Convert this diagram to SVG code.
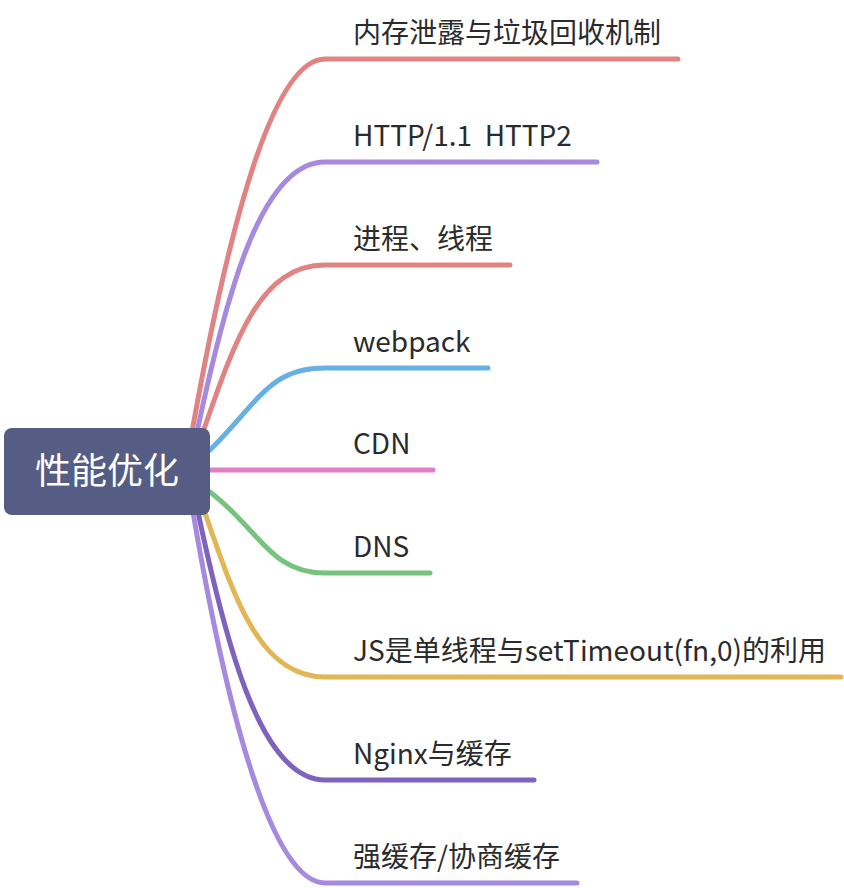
<svg xmlns="http://www.w3.org/2000/svg" width="844" height="888" viewBox="0 0 844 888">
<style>
.ln{fill:none;stroke-width:5;stroke-linecap:round}
.lb{font-family:"Noto Sans CJK SC","Noto Sans",sans-serif;font-size:28px;fill:#2b2b2b;white-space:pre}
.rt{font-family:"Noto Sans CJK SC","Noto Sans",sans-serif;font-size:36px;fill:#ffffff}
</style>
<rect width="844" height="888" fill="#ffffff"/>
<g id="connectors">
<path class="ln" stroke="#e28383" d="M192 432 C225 246 270 59 325 59 L678 59"/>
<path class="ln" stroke="#a58ae0" d="M197 432 C225 300 260 162 325 162 L597 162"/>
<path class="ln" stroke="#e28383" d="M203 432 C235 340 260 265 325 265 L510 265"/>
<path class="ln" stroke="#66b0e4" d="M210 450 C260 400 270 368 325 368 L488 368"/>
<path class="ln" stroke="#e07fc8" d="M210 470 L433 470"/>
<path class="ln" stroke="#77c27f" d="M210 492 C260 530 270 573 325 573 L430 573"/>
<path class="ln" stroke="#e2b657" d="M204 510 C235 600 260 677 325 677 L841 677"/>
<path class="ln" stroke="#7e62bd" d="M198 512 C225 640 260 780 325 780 L534 780"/>
<path class="ln" stroke="#a58ae0" d="M193 512 C225 700 270 883 325 883 L577 883"/>
</g>
<g id="root"><rect x="4" y="428" width="206" height="87" rx="8" fill="#565d85"/><text class="rt" x="107" y="484" text-anchor="middle">性能优化</text></g>
<g id="n1"><text class="lb" x="353" y="43">内存泄露与垃圾回收机制</text></g>
<g id="n2"><text class="lb" x="353" y="146" xml:space="preserve">HTTP/1.1  HTTP2</text></g>
<g id="n3"><text class="lb" x="353" y="249">进程、线程</text></g>
<g id="n4"><text class="lb" x="353" y="352">webpack</text></g>
<g id="n5"><text class="lb" x="353" y="454">CDN</text></g>
<g id="n6"><text class="lb" x="353" y="557">DNS</text></g>
<g id="n7"><text class="lb" x="353" y="661">JS是单线程与setTimeout(fn,0)的利用</text></g>
<g id="n8"><text class="lb" x="353" y="764">Nginx与缓存</text></g>
<g id="n9"><text class="lb" x="353" y="867">强缓存/协商缓存</text></g>
</svg>
